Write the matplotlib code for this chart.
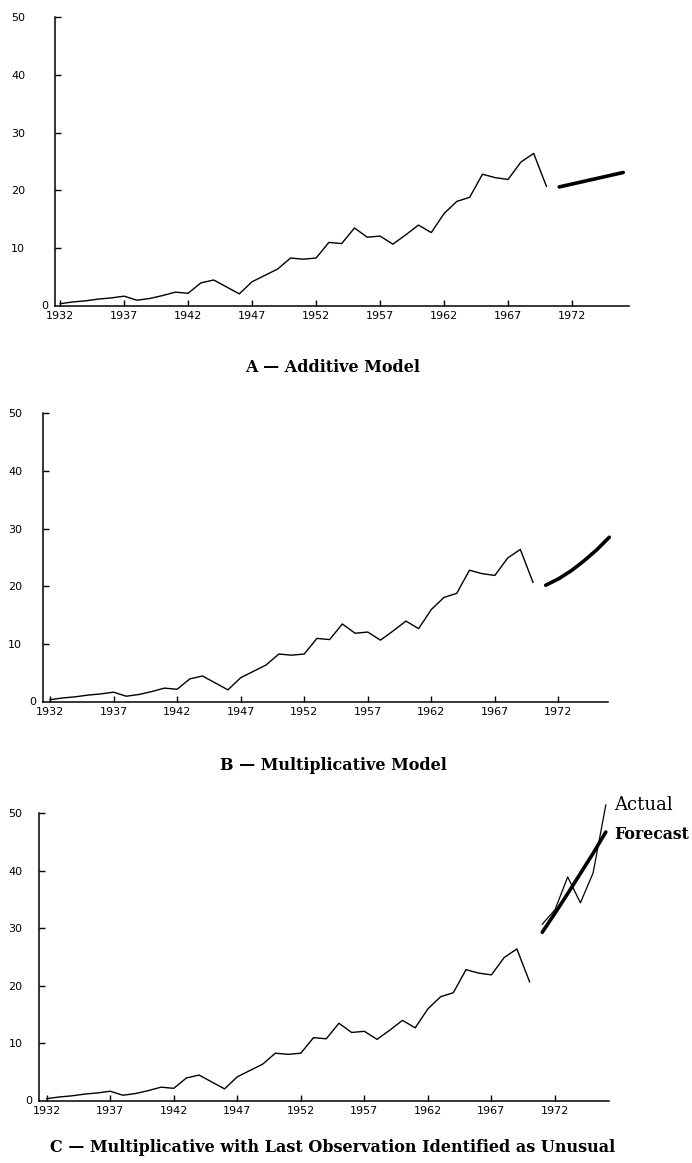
import numpy as np
import matplotlib.pyplot as plt

# observed series 1932-1970
years = np.arange(1932, 1971)
actual = [0.4, 0.7, 0.9, 1.2, 1.4, 1.7, 1.0, 1.3, 1.8, 2.4,
          2.2, 4.0, 4.5, 3.3, 2.1, 4.2, 5.3, 6.4, 8.3, 8.1,
          8.3, 11.0, 10.8, 13.5, 11.9, 12.1, 10.7, 12.3, 14.0, 12.7,
          16.0, 18.1, 18.8, 22.8, 22.2, 21.9, 24.9, 26.4, 20.7]

# forecast years and values per model
fc_years = np.arange(1971, 1977)
fc_additive = [20.6, 21.1, 21.6, 22.1, 22.6, 23.1]
fc_multiplicative = [20.2, 21.3, 22.7, 24.4, 26.3, 28.5]
fc_unusual = [29.3, 32.6, 36.0, 39.5, 43.0, 46.7]
actual_later = [30.7, 33.2, 38.9, 34.4, 39.6, 51.4]

xticks = list(range(1932, 1973, 5))
yticks = [10, 20, 30, 40, 50]

titles = ["A \u2014 Additive Model",
          "B \u2014 Multiplicative Model",
          "C \u2014 Multiplicative with Last Observation Identified as Unusual"]

W, H = 692, 1163
fig = plt.figure(figsize=(W / 100, H / 100), dpi=100)


def px_rect(left, right, top, bottom):
    return [left / W, 1 - bottom / H, (right - left) / W, (bottom - top) / H]


# (rect in pixels, xlim, y label pad in points, forecast)
panels = [
    (px_rect(55, 629, 17, 306), (1931.6, 1976.45), 21.5, fc_additive),
    (px_rect(43, 608, 413, 702), (1931.45, 1975.9), 15, fc_multiplicative),
    (px_rect(39, 609, 813, 1101), (1931.4, 1976.25), 12, fc_unusual),
]
title_y = [368, 765, 1148]

for i, (rect, xlim, ypad, fc) in enumerate(panels):
    ax = fig.add_axes(rect)
    ax.plot(years, actual, color="black", lw=1.0, clip_on=False)
    ax.plot(fc_years, fc, color="black", lw=2.6, solid_capstyle="round",
            clip_on=False)
    if i == 2:
        ax.plot(fc_years, actual_later, color="black", lw=0.9, clip_on=False)
        ax.annotate("Actual", xy=(fc_years[-1], actual_later[-1]),
                    xytext=(6, 0), textcoords="offset points", va="center",
                    ha="left", family="DejaVu Serif", fontsize=13,
                    annotation_clip=False)
        ax.annotate("Forecast", xy=(fc_years[-1], fc[-1]),
                    xytext=(6, -2), textcoords="offset points", va="center",
                    ha="left", family="DejaVu Serif", fontweight="bold",
                    fontsize=11.3, annotation_clip=False)

    ax.set_xlim(*xlim)
    ax.set_ylim(0, 50)
    ax.set_xticks(xticks)
    ax.set_xticklabels([str(x) for x in xticks])
    ax.set_yticks(yticks)
    ax.set_yticklabels([str(y) for y in yticks])
    ax.annotate("0", xy=(0, 0), xycoords=("axes fraction", "data"),
                xytext=(-5, 0), textcoords="offset points", ha="right",
                va="center", fontsize=8)

    for side in ["top", "right"]:
        ax.spines[side].set_visible(False)
    for side in ["left", "bottom"]:
        ax.spines[side].set_linewidth(1.1)
    ax.tick_params(axis="both", direction="in", length=4, width=1.0,
                   labelsize=8)
    ax.tick_params(axis="y", pad=ypad)
    ax.tick_params(axis="x", pad=3.5)

    fig.text(333 / W, 1 - title_y[i] / H, titles[i], ha="center",
             va="center", family="DejaVu Serif", fontweight="bold",
             fontsize=11.5)

fig.savefig("out.png", dpi=100)
